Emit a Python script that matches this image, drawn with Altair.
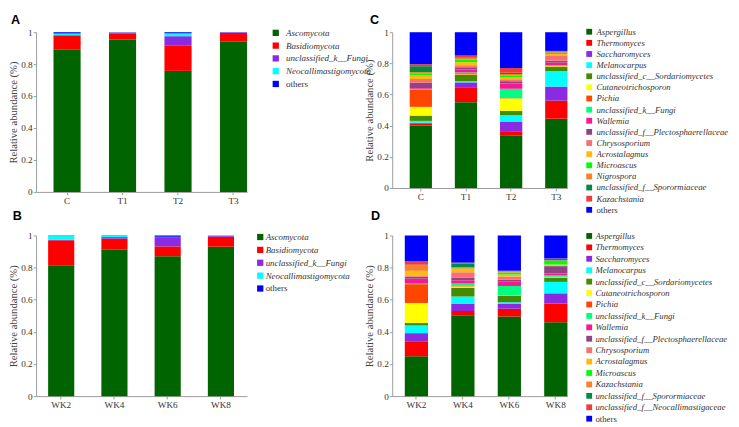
import altair as alt
import pandas as pd

# ---------------- data ----------------
samples_ac = ["C", "T1", "T2", "T3"]
samples_bd = ["WK2", "WK4", "WK6", "WK8"]

phyla = ["Ascomycota", "Basidiomycota", "unclassified_k__Fungi",
         "Neocallimastigomycota", "others"]
phyla_colors = ["#006400", "#FF0000", "#8A2BE2", "#00FFFF", "#0000FF"]

# panel A (phylum, treatments)
A_C = [0.890, 0.088, 0.004, 0.010, 0.008]
A_T1 = [0.953, 0.040, 0.005, 0.001, 0.001]
A_T2 = [0.758, 0.157, 0.060, 0.018, 0.007]
A_T3 = [0.940, 0.055, 0.003, 0.001, 0.001]

# panel B (phylum, weeks)
B_WK2 = [0.811, 0.159, 0.003, 0.025, 0.002]
B_WK4 = [0.912, 0.068, 0.010, 0.008, 0.002]
B_WK6 = [0.871, 0.061, 0.058, 0.002, 0.008]
B_WK8 = [0.930, 0.062, 0.006, 0.001, 0.001]

genera_c = ["Aspergillus", "Thermomyces", "Saccharomyces", "Melanocarpus",
            "unclassified_c__Sordariomycetes", "Cutaneotrichosporon", "Pichia",
            "unclassified_k__Fungi", "Wallemia",
            "unclassified_f__Plectosphaerellaceae", "Chrysosporium",
            "Acrostalagmus", "Microascus", "Nigrospora",
            "unclassified_f__Sporormiaceae", "Kazachstania", "others"]
genera_c_colors = ["#006400", "#FF0000", "#8A2BE2", "#00FFFF", "#458B00",
                   "#FFFF00", "#FF4500", "#00FF7F", "#FF1493", "#8E4585",
                   "#FA7070", "#FFB90F", "#00FF00", "#FF7F24", "#008B45",
                   "#EE3B3B", "#0000FF"]

C_C = [0.400, 0.015, 0.004, 0.012, 0.034, 0.056, 0.109, 0.007, 0.005, 0.033,
       0.025, 0.022, 0.015, 0.007, 0.038, 0.013, 0.205]
C_T1 = [0.551, 0.096, 0.031, 0.008, 0.040, 0.003, 0.008, 0.005, 0.018, 0.015,
        0.013, 0.020, 0.018, 0.008, 0.005, 0.011, 0.150]
C_T2 = [0.335, 0.030, 0.062, 0.040, 0.028, 0.080, 0.002, 0.060, 0.034, 0.015,
        0.012, 0.012, 0.010, 0.012, 0.008, 0.030, 0.230]
C_T3 = [0.445, 0.116, 0.090, 0.099, 0.030, 0.003, 0.002, 0.003, 0.017, 0.012,
        0.035, 0.008, 0.008, 0.004, 0.004, 0.004, 0.120]

genera_d = ["Aspergillus", "Thermomyces", "Saccharomyces", "Melanocarpus",
            "unclassified_c__Sordariomycetes", "Cutaneotrichosporon", "Pichia",
            "unclassified_k__Fungi", "Wallemia",
            "unclassified_f__Plectosphaerellaceae", "Chrysosporium",
            "Acrostalagmus", "Microascus", "Kazachstania",
            "unclassified_f__Sporormiaceae",
            "unclassified_f__Neocallimastigaceae", "others"]
genera_d_colors = ["#006400", "#FF0000", "#8A2BE2", "#00FFFF", "#458B00",
                   "#FFFF00", "#FF4500", "#00FF7F", "#FF1493", "#8E4585",
                   "#FA7070", "#FFB90F", "#00FF00", "#FF7F24", "#008B45",
                   "#EE3B3B", "#0000FF"]

D_WK2 = [0.248, 0.090, 0.054, 0.048, 0.015, 0.125, 0.117, 0.004, 0.030, 0.012,
         0.008, 0.025, 0.004, 0.035, 0.003, 0.023, 0.159]
D_WK4 = [0.500, 0.030, 0.046, 0.044, 0.055, 0.008, 0.006, 0.012, 0.020, 0.015,
         0.035, 0.018, 0.005, 0.008, 0.022, 0.007, 0.169]
D_WK6 = [0.496, 0.048, 0.030, 0.010, 0.041, 0.003, 0.002, 0.055, 0.030, 0.010,
         0.020, 0.012, 0.012, 0.006, 0.003, 0.003, 0.219]
D_WK8 = [0.460, 0.116, 0.064, 0.071, 0.027, 0.003, 0.002, 0.008, 0.012, 0.046,
         0.002, 0.008, 0.024, 0.002, 0.010, 0.002, 0.143]

y_ticks = [0, 0.2, 0.4, 0.6, 0.8, 1]

SERIF = "Liberation Serif, Times New Roman, serif"


def make_df(samples, taxa, rows):
    recs = []
    for s, vals in zip(samples, rows):
        for i, (t, v) in enumerate(zip(taxa, vals)):
            recs.append({"sample": s, "taxon": t, "value": v, "idx": i})
    return pd.DataFrame(recs)


def panel(letter, samples, taxa, colors, rows, width, height, pi, po, al,
          lx, ly, lfs, rowpad, loff, ssize, dx, toff):
    df = make_df(samples, taxa, rows)
    return alt.Chart(
        df,
        title=alt.TitleParams(letter, anchor="start", frame="group", dx=dx,
                              font="Liberation Sans", fontSize=13,
                              fontWeight="bold", offset=toff, color="black"),
    ).mark_bar().encode(
        x=alt.X("sample:N", sort=samples,
                scale=alt.Scale(paddingInner=pi, paddingOuter=po, align=al),
                axis=alt.Axis(title=None, labelAngle=0, labelFontSize=9.5)),
        y=alt.Y("value:Q", stack="zero",
                scale=alt.Scale(domain=[0, 1], nice=False),
                axis=alt.Axis(title="Relative abundance (%)", values=y_ticks,
                              format="~g", grid=False)),
        color=alt.Color("taxon:N",
                        scale=alt.Scale(domain=taxa, range=colors),
                        legend=alt.Legend(
                            title=None, orient="none", legendX=lx, legendY=ly,
                            symbolType="square", symbolSize=ssize,
                            symbolStrokeWidth=0, labelFont=SERIF,
                            labelFontSize=lfs, labelColor="#333333",
                            labelFontStyle={"expr": "datum.value == 'others' ? 'normal' : 'italic'"},
                            rowPadding=rowpad, labelOffset=loff, padding=0,
                            labelLimit=0)),
        order=alt.Order("idx:Q", sort="ascending"),
    ).properties(width=width, height=height)


pA = panel("A", samples_ac, phyla, phyla_colors, [A_C, A_T1, A_T2, A_T3],
           218, 165, 0.511, 0.157, 1.0, 243, -4, 9.3, 3.2, 6, 42, -26, 0)
pB = panel("B", samples_bd, phyla, phyla_colors, [B_WK2, B_WK4, B_WK6, B_WK8],
           218, 166, 0.509, 0.236, 0.48, 227, -3, 9.2, 3.3, 1, 42, -24, 8)
pC = panel("C", samples_ac, genera_c, genera_c_colors, [C_C, C_T1, C_T2, C_T3],
           181, 161, 0.507, 0.193, 1.0, 199, -5, 9, 1.5, 3, 36, -23, 0)
pD = panel("D", samples_bd, genera_d, genera_d_colors,
           [D_WK2, D_WK4, D_WK6, D_WK8],
           181, 166, 0.5, 0.135, 1.0, 199, -4, 9, 1.8, 2, 36, -22, 8)

chart = alt.concat(
    pA, pC, pB, pD, columns=2, spacing={"row": 45, "column": 150},
    bounds="flush",
).resolve_scale(color="independent", x="independent", y="independent"
).properties(
    padding={"left": 0, "top": 0, "right": 2, "bottom": 0},
    background="white",
).configure_view(stroke=None).configure_axis(
    domainColor="#999999", tickColor="#999999", tickSize=3,
    labelFont=SERIF, labelFontSize=9.5, labelColor="#333333",
    labelPadding=1, titleFont=SERIF, titleFontSize=11,
    titleFontWeight="normal", titleColor="#444444", titlePadding=2,
)

chart.save("out.html", embed_options={"renderer": "svg", "actions": False})
